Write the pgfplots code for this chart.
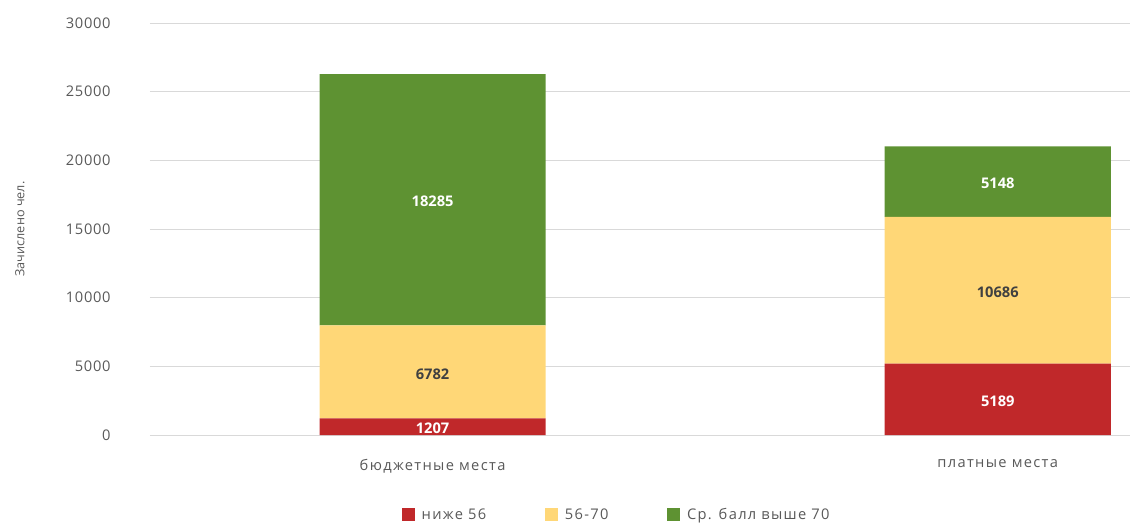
\documentclass[border=0pt]{standalone}
\usepackage{pgfplots}
\pgfplotsset{compat=1.18}
\usepackage{fontspec}
\setmainfont{Open Sans}
\newfontfamily\widefont[LetterSpace=9]{Open Sans}
\newfontfamily\tickfont[LetterSpace=5]{Open Sans}
\definecolor{cRed}{HTML}{C0282A}
\definecolor{cYel}{HTML}{FFD777}
\definecolor{cGrn}{HTML}{5E9232}
\definecolor{txtgray}{HTML}{595959}
\definecolor{gridgray}{HTML}{D9D9D9}
\pgfplotsset{
  common/.style={
    at={(0,0)}, anchor=south west,
    scale only axis,
    width=735pt, height=309pt,
    xmin=-0.5, xmax=1.234,
    ymin=0, ymax=30000,
  },
}
\begin{document}
\begin{tikzpicture}
\useasboundingbox (-112.5pt,-65.25pt) rectangle (735pt,326.25pt);
\begin{axis}[
    common,
    ybar stacked,
    bar width=0.4,
    xtick={0,1},
    xticklabels={бюджетные места, платные места},
    ytick={0,5000,...,30000},
    scaled y ticks=false,
    ymajorgrids,
    grid style={gridgray, line width=0.6pt},
    axis line style={draw=none},
    tick style={draw=none},
    /pgf/number format/assume math mode=true,
    /pgf/number format/1000 sep={},
    yticklabel style={font=\tickfont\fontsize{11}{13}\selectfont, text=txtgray, xshift=-26pt},
    xticklabel style={font=\widefont\fontsize{11}{13}\selectfont, text=txtgray, yshift=-15pt},
    ylabel={Зачислено чел.},
    ylabel style={font=\fontsize{9.5}{11}\selectfont, text=txtgray, at={(axis description cs:-0.1327,0.5)}, anchor=center},
    legend style={at={(axis description cs:0.4765,-0.194)}, anchor=center, draw=none, legend columns=-1,
        font=\widefont\fontsize{11}{13}\selectfont, text=txtgray,
        /tikz/every odd column/.append style={column sep=3pt},
        /tikz/every even column/.append style={column sep=42pt}},
    legend image code/.code={\fill[#1] (0pt,-4.5pt) rectangle (10pt,5pt);},
]
\addplot[fill=cRed, draw=none] coordinates {(0,1207) (1,5189)};
\addplot[fill=cYel, draw=none] coordinates {(0,6782) (1,10686)};
\addplot[fill=cGrn, draw=none] coordinates {(0,18285) (1,5148)};
\legend{ниже 56, 56-70, Ср. балл выше 70}
\end{axis}
% data labels at the middle of each segment
\begin{axis}[
    common,
    hide axis,
    point meta=explicit symbolic,
    nodes near coords,
    every node near coord/.append style={anchor=center, yshift=-1.5pt, font=\bfseries\fontsize{11}{13}\selectfont},
]
\addplot[draw=none, mark=none, every node near coord/.append style={text=white}]
  coordinates {(0,603.5)[1207] (1,2594.5)[5189]};
\addplot[draw=none, mark=none, every node near coord/.append style={text=black!75}]
  coordinates {(0,4598)[6782] (1,10532)[10686]};
\addplot[draw=none, mark=none, every node near coord/.append style={text=white}]
  coordinates {(0,17131.5)[18285] (1,18449)[5148]};
\end{axis}
\end{tikzpicture}
\end{document}
